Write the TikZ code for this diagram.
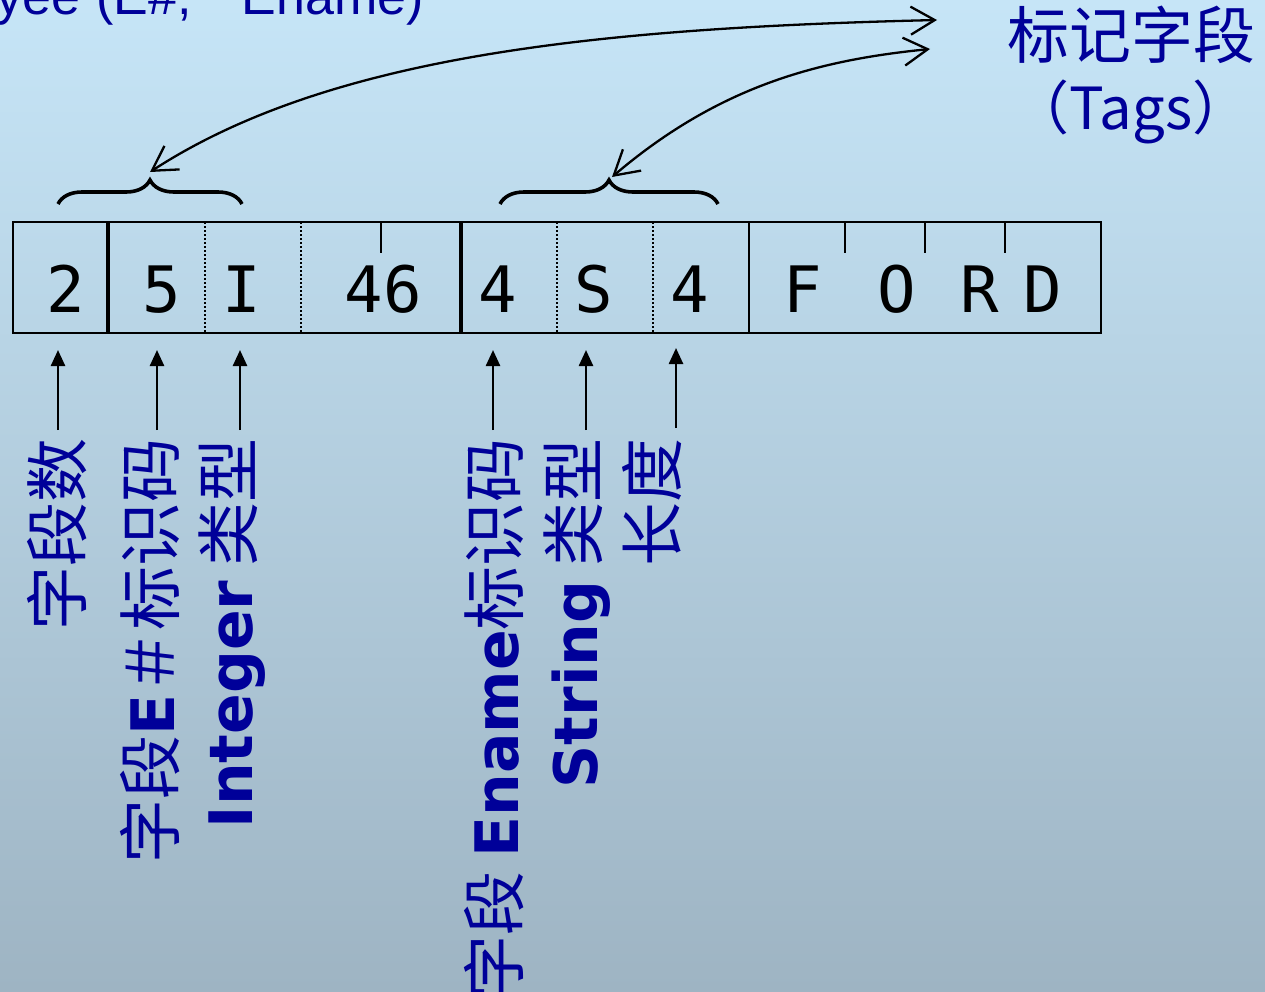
\documentclass[tikz,border=0pt]{standalone}
\usepackage{fontspec}
\setmainfont{DejaVu Sans}
\newfontfamily\cjk{Noto Sans CJK SC}
\newfontfamily\arialf{Liberation Sans}
\newfontfamily\cellfont{DejaVu Sans Mono}
\usetikzlibrary{arrows.meta,decorations.pathreplacing}
\definecolor{labblue}{RGB}{0,0,153}
\definecolor{bgtop}{RGB}{198,229,247}
\definecolor{bgbot}{RGB}{158,180,195}
\newcommand\blat[1]{{\rmfamily\bfseries\fontsize{60}{60}\selectfont #1}}
\tikzset{
  cellline/.style={line width=1.8pt, draw=black},
  thickdiv/.style={line width=3.6pt, draw=black},
  dotdiv/.style={line width=1.8pt, draw=black, dash pattern=on 2pt off 2pt},
  celltext/.style={anchor=base, inner sep=0pt, font=\fontsize{64}{64}\selectfont\cellfont},
  bracestyle/.style={line width=3.6pt, decorate, decoration={brace, amplitude=24pt}},
  curvarr/.style={line width=2.3pt, {Straight Barb[length=24pt,width=28pt]}-{Straight Barb[length=24pt,width=28pt]}},
  uparr/.style={line width=2.5pt, -{Triangle[length=16pt,width=14pt]}},
  lab/.style={rotate=90, anchor=east, inner sep=0pt, text=labblue, font=\fontsize{64}{64}\selectfont\cjk},
  tagtext/.style={inner sep=0pt, text=labblue, font=\cjk}
}
\begin{document}
\begin{tikzpicture}[x=1pt,y=-1pt]
\useasboundingbox (0,0) rectangle (1265,991);
\clip (0,0) rectangle (1265,991);
\fill[top color=bgtop, bottom color=bgbot] (0,0) rectangle (1265,991);

% clipped heading
\node[anchor=base east, inner sep=0pt, text=labblue, font=\fontsize{52}{52}\selectfont\arialf] (head) at (424,14)
  {yee\hspace{16pt}(E\#,\hspace{50pt}Ename)};

% record
\draw[cellline] (13,222) rectangle (1101,333);
\draw[thickdiv] (108,222) -- (108,333);
\draw[thickdiv] (461,222) -- (461,333);
\draw[dotdiv] (205,222) -- (205,333);
\draw[dotdiv] (301,222) -- (301,333);
\draw[dotdiv] (557,222) -- (557,333);
\draw[dotdiv] (653,222) -- (653,333);
\draw[cellline] (749,222) -- (749,333);
\foreach \tx in {381,845,925,1005} \draw[cellline] (\tx,222) -- (\tx,253);

\node[celltext] (c1) at (66,312) {2};
\node[celltext] (c2) at (162,312) {5};
\node[celltext] (c3) at (242,312) {I};
\node[celltext] (c4) at (383,312) {46};
\node[celltext] (c5) at (498,312) {4};
\node[celltext] (c6) at (594,312) {S};
\node[celltext] (c7) at (690,312) {4};
\node[celltext] (c8) at (803,312) {F};
\node[celltext] (c9) at (897,312) {O};
\node[celltext] (c10) at (980,312) {R};
\node[celltext] (c11) at (1043,312) {D};

% braces
\draw[bracestyle] (58,204) -- (242,204);
\draw[bracestyle] (500,204) -- (718,204);

% tag label
\node[tagtext, font=\fontsize{62}{62}\selectfont\cjk] (tagzh) at (1131,35) {标记字段};
\node[tagtext, font=\fontsize{58}{58}\selectfont\cjk] (tagen) at (1131,112) {（Tags）};

% curved arrows
\coordinate (b1) at (150,172);
\coordinate (b2) at (612,177);
\coordinate (e1) at (937,20);
\coordinate (e2) at (930,49);
\draw[curvarr] (b1) .. controls (330,55) and (600,28) .. (e1);
\draw[curvarr] (b2) .. controls (720,85) and (820,60) .. (e2);

% vertical labels
\node[lab] (l1) at (57,438) {字段数};
\node[lab] (l2) at (150,438) {字段\blat{E}＃标识码};
\node[lab] (l3) at (232,438) {\blat{Integer} 类型};
\node[lab] (l4) at (494,438) {字段 \blat{Ename}标识码};
\node[lab] (l5) at (577,438) {\blat{String} 类型};
\node[lab] (l6) at (652,438) {长度};

% up arrows
\foreach \i/\ax/\ty/\hy in {1/58/430/350, 2/157/430/350, 3/240/430/350, 4/493/430/350, 5/586/430/350, 6/676/428/348}{
  \coordinate (s\i) at (\ax,\ty);
  \coordinate (t\i) at (\ax,\hy);
  \draw[uparr] (s\i) -- (t\i);
}
\end{tikzpicture}
\end{document}
